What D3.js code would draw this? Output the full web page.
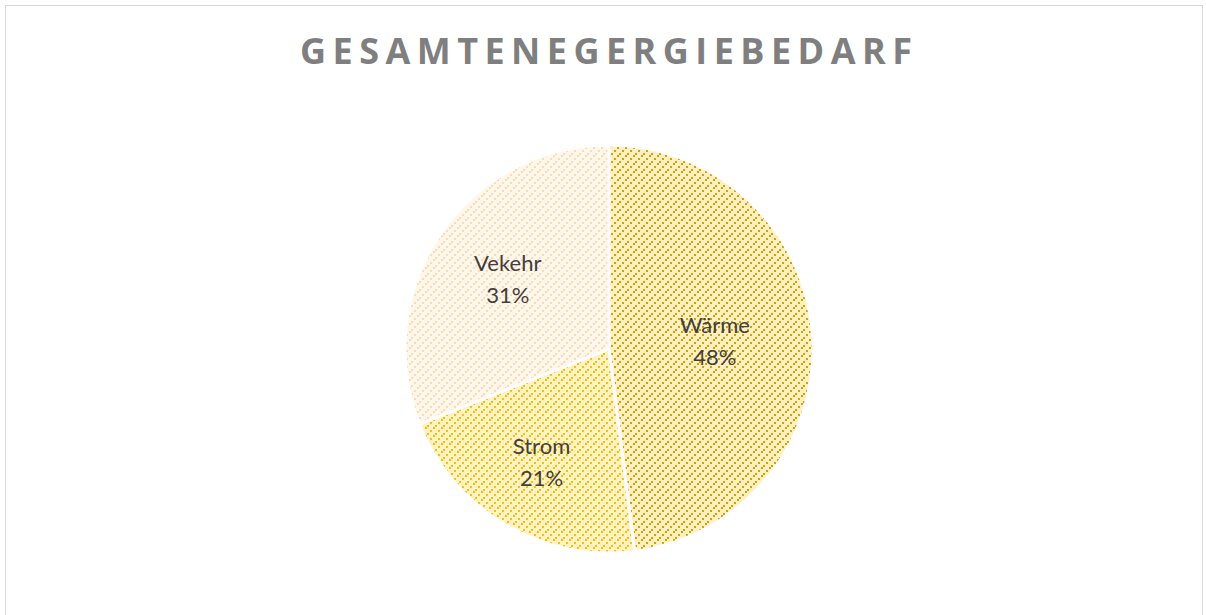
<!DOCTYPE html>
<html><head><meta charset="utf-8">
<script src="https://cdn.jsdelivr.net/npm/d3@7"></script>
<style>body{margin:0;background:#fff;}svg{display:block;}</style>
</head><body>
<svg id="c" width="1206" height="615"></svg>
<script>
const title = "GESAMTENEGERGIEBEDARF";
const categories = ["Wärme", "Strom", "Vekehr"];
const values = [48, 21, 31];
const labels = ["48%", "21%", "31%"];
const bgColors = ["#fff0c2", "#fff3c6", "#fff6ec"];
const fgColors = ["#d6a200", "#ffc000", "#ffdcb0"];

const svg = d3.select("#c");
svg.append("rect").attr("x",5.5).attr("y",5.5).attr("width",1197).attr("height",620)
  .attr("fill","#fff").attr("stroke","#d9d9d9").attr("stroke-width",1);

const defs = svg.append("defs");
categories.forEach((c,i)=>{
  const p = defs.append("pattern").attr("id","p"+i).attr("patternUnits","userSpaceOnUse")
    .attr("width",8).attr("height",8);
  p.append("rect").attr("width",8).attr("height",8).attr("fill",bgColors[i]);
  [[0,6],[2,4],[5,1]].forEach(([x,y])=>{
    p.append("rect").attr("x",x).attr("y",y).attr("width",2).attr("height",2).attr("fill",fgColors[i]);
  });
});

svg.append("text").attr("x",606).attr("y",64).attr("text-anchor","middle")
  .attr("font-family","'Open Sans'").attr("font-weight","bold").attr("font-size",36)
  .attr("fill","#7f7f7f").attr("textLength",612).attr("lengthAdjust","spacing")
  .text(title);

const cx = 609, cy = 349, r = 204;
const pie = d3.pie().sort(null).value(d=>d)(values);
const arc = d3.arc().innerRadius(0).outerRadius(r);
const g = svg.append("g").attr("transform",`translate(${cx},${cy})`);
g.selectAll("path").data(pie).join("path")
  .attr("d",arc).attr("fill",(d,i)=>`url(#p${i})`)
  .attr("stroke","#fff").attr("stroke-width",3).attr("stroke-linejoin","round");

const labelFrac = [0.52, 0.65, 0.60];
const lab = g.selectAll("g.lab").data(pie).join("g").attr("class","lab")
  .attr("transform",(d,i)=>{
    const a = d3.arc().innerRadius(r*labelFrac[i]).outerRadius(r*labelFrac[i]);
    const [x,y]=a.centroid(d);return `translate(${x},${y})`;});
lab.append("text").attr("text-anchor","middle").attr("y",-9)
  .attr("font-family","Lato").attr("font-size",22).attr("fill","#404040")
  .text((d,i)=>categories[i]);
lab.append("text").attr("text-anchor","middle").attr("y",23)
  .attr("font-family","Lato").attr("font-size",22).attr("fill","#404040")
  .text((d,i)=>labels[i]);
</script>
</body></html>
